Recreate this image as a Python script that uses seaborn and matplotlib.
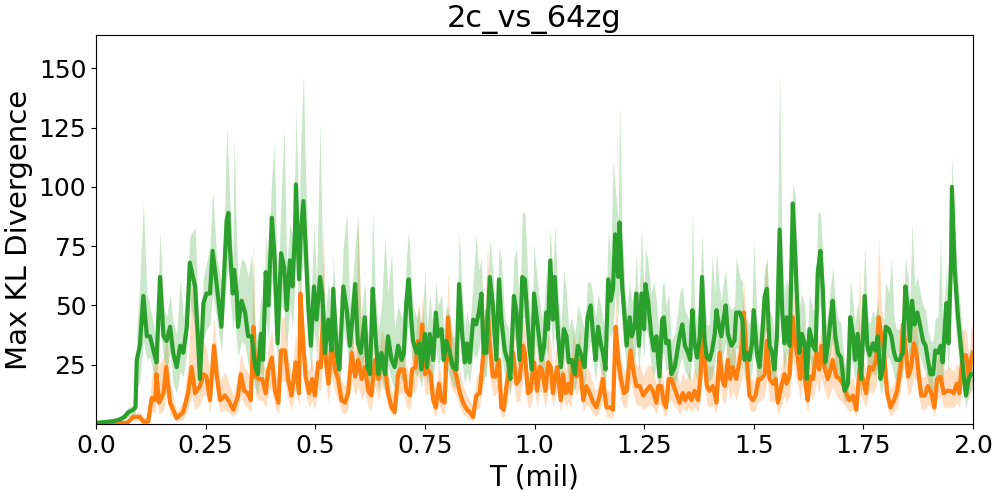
import matplotlib
matplotlib.use("Agg")
import matplotlib.pyplot as plt
import numpy as np
import seaborn as sns

# ---- data (T in millions of steps) ----
GREEN_T = [
    0.000, 0.020, 0.040, 0.055, 0.065, 0.074, 0.085, 0.090, 0.093, 0.100,
    0.108, 0.116, 0.123, 0.131, 0.138, 0.146, 0.154, 0.161, 0.169, 0.176,
    0.184, 0.192, 0.199, 0.207, 0.214, 0.226, 0.233, 0.237, 0.245, 0.252,
    0.260, 0.266, 0.275, 0.286, 0.292, 0.298, 0.302, 0.305, 0.312, 0.315,
    0.321, 0.324, 0.332, 0.340, 0.347, 0.355, 0.363, 0.369, 0.376, 0.381,
    0.387, 0.393, 0.401, 0.407, 0.414, 0.422, 0.429, 0.435, 0.442, 0.448,
    0.454, 0.456, 0.463, 0.467, 0.473, 0.478, 0.484, 0.490, 0.497, 0.503,
    0.511, 0.516, 0.522, 0.530, 0.537, 0.541, 0.549, 0.555, 0.564, 0.572,
    0.579, 0.585, 0.591, 0.597, 0.604, 0.613, 0.619, 0.625, 0.631, 0.637,
    0.644, 0.651, 0.659, 0.666, 0.674, 0.681, 0.689, 0.697, 0.702, 0.708,
    0.713, 0.719, 0.723, 0.731, 0.737, 0.742, 0.750, 0.755, 0.761, 0.769,
    0.775, 0.780, 0.788, 0.793, 0.799, 0.807, 0.814, 0.822, 0.828, 0.835,
    0.841, 0.846, 0.852, 0.860, 0.867, 0.873, 0.879, 0.884, 0.890, 0.898,
    0.905, 0.913, 0.919, 0.924, 0.932, 0.940, 0.945, 0.953, 0.959, 0.966,
    0.972, 0.978, 0.984, 0.989, 0.994, 0.999, 1.004, 1.010, 1.016, 1.022,
    1.027, 1.031, 1.036, 1.042, 1.046, 1.054, 1.060, 1.067, 1.073, 1.078,
    1.084, 1.092, 1.099, 1.107, 1.114, 1.121, 1.128, 1.134, 1.139, 1.145,
    1.151, 1.156, 1.162, 1.168, 1.174, 1.179, 1.184, 1.191, 1.194, 1.200,
    1.206, 1.210, 1.217, 1.222, 1.229, 1.232, 1.238, 1.244, 1.250, 1.253,
    1.259, 1.266, 1.272, 1.278, 1.285, 1.291, 1.295, 1.300, 1.306, 1.312,
    1.320, 1.325, 1.331, 1.337, 1.343, 1.350, 1.355, 1.360, 1.365, 1.371,
    1.377, 1.382, 1.388, 1.393, 1.399, 1.405, 1.411, 1.415, 1.421, 1.426,
    1.431, 1.436, 1.441, 1.449, 1.456, 1.460, 1.468, 1.474, 1.479, 1.484,
    1.490, 1.496, 1.500, 1.507, 1.513, 1.519, 1.525, 1.530, 1.536, 1.542,
    1.547, 1.553, 1.559, 1.565, 1.570, 1.575, 1.582, 1.589, 1.595, 1.599,
    1.604, 1.610, 1.616, 1.621, 1.627, 1.635, 1.641, 1.646, 1.652, 1.658,
    1.663, 1.669, 1.675, 1.680, 1.686, 1.692, 1.699, 1.707, 1.715, 1.720,
    1.726, 1.731, 1.737, 1.745, 1.753, 1.759, 1.764, 1.772, 1.777, 1.783,
    1.789, 1.795, 1.801, 1.808, 1.814, 1.820, 1.825, 1.833, 1.840, 1.846,
    1.852, 1.856, 1.861, 1.867, 1.873, 1.880, 1.886, 1.892, 1.897, 1.903,
    1.909, 1.914, 1.920, 1.926, 1.931, 1.939, 1.944, 1.950, 1.952, 1.958,
    1.965, 1.973, 1.979, 1.984, 1.990, 1.995, 2.000,
]
GREEN_MEAN = [
    0.5, 0.8, 1.2, 2, 3, 5, 6, 7, 27, 33,
    54, 37, 37, 31, 26, 62, 37, 35, 41, 30,
    24, 33, 30, 41, 68, 58, 34, 19, 51, 55,
    55, 73, 59, 41, 63, 86, 89, 75, 55, 65,
    55, 41, 52, 47, 37, 37, 24, 21, 38, 27,
    64, 50, 87, 71, 34, 72, 66, 48, 69, 58,
    82, 101, 61, 80, 94, 75, 50, 33, 58, 44,
    62, 55, 30, 44, 31, 57, 30, 23, 58, 48,
    33, 45, 59, 34, 30, 45, 24, 21, 57, 38,
    21, 30, 21, 37, 27, 24, 33, 27, 30, 52,
    61, 44, 35, 30, 34, 23, 38, 24, 38, 27,
    47, 37, 40, 27, 35, 30, 24, 23, 59, 38,
    26, 34, 26, 44, 42, 47, 55, 30, 30, 62,
    50, 27, 61, 45, 31, 26, 19, 54, 47, 27,
    62, 61, 44, 31, 23, 55, 47, 37, 27, 33,
    47, 40, 69, 44, 62, 37, 24, 40, 37, 26,
    27, 21, 33, 29, 24, 45, 50, 37, 27, 41,
    34, 30, 23, 61, 52, 57, 80, 62, 85, 58,
    44, 33, 45, 37, 42, 55, 33, 55, 40, 59,
    52, 38, 31, 37, 20, 44, 45, 34, 35, 21,
    24, 30, 37, 42, 33, 30, 27, 48, 34, 28,
    37, 62, 35, 28, 27, 31, 38, 48, 41, 37,
    44, 50, 38, 33, 35, 47, 47, 44, 27, 30,
    27, 34, 48, 30, 24, 37, 54, 57, 33, 30,
    23, 37, 82, 47, 34, 45, 33, 93, 69, 51,
    30, 38, 34, 19, 40, 33, 31, 64, 73, 55,
    26, 33, 44, 52, 37, 30, 28, 14, 17, 45,
    38, 27, 38, 19, 54, 33, 29, 34, 31, 37,
    19, 24, 41, 40, 37, 30, 27, 27, 30, 58,
    47, 35, 52, 42, 47, 41, 35, 33, 27, 21,
    21, 31, 30, 33, 26, 51, 34, 69, 100, 66,
    47, 31, 20, 12, 19, 21, 21,
]
GREEN_LO = [
    0.2, 0.4, 0.7, 1, 2, 3, 4, 5, 15, 18,
    35, 27, 28, 22, 18, 40, 28, 23, 30, 17,
    13, 22, 20, 30, 52, 40, 22, 12, 35, 40,
    42, 55, 45, 30, 48, 62, 65, 55, 40, 45,
    35, 28, 35, 33, 25, 22, 15, 12, 22, 18,
    45, 35, 60, 50, 24, 50, 48, 32, 50, 40,
    60, 75, 45, 60, 70, 55, 35, 22, 40, 30,
    45, 38, 20, 30, 20, 40, 20, 15, 40, 32,
    22, 30, 42, 22, 20, 30, 15, 14, 40, 25,
    14, 20, 14, 25, 18, 15, 22, 18, 20, 35,
    42, 30, 24, 20, 22, 15, 25, 16, 25, 18,
    32, 25, 28, 18, 24, 20, 16, 15, 40, 25,
    17, 22, 17, 30, 28, 32, 38, 20, 20, 42,
    35, 18, 42, 30, 20, 17, 12, 38, 32, 18,
    45, 45, 30, 20, 15, 38, 32, 25, 18, 22,
    32, 28, 48, 30, 44, 25, 16, 28, 25, 17,
    18, 14, 22, 19, 16, 30, 35, 25, 18, 28,
    22, 20, 15, 42, 36, 40, 55, 45, 60, 40,
    30, 22, 30, 25, 28, 38, 22, 38, 28, 42,
    36, 25, 20, 25, 13, 30, 30, 22, 24, 14,
    16, 20, 25, 28, 22, 20, 18, 32, 22, 18,
    25, 42, 24, 18, 18, 20, 25, 32, 28, 25,
    30, 35, 25, 22, 24, 32, 32, 30, 18, 20,
    18, 22, 32, 20, 16, 25, 38, 40, 22, 20,
    15, 25, 55, 32, 22, 30, 22, 65, 48, 35,
    20, 25, 22, 12, 28, 22, 20, 45, 50, 38,
    17, 22, 30, 36, 25, 20, 18, 9, 11, 30,
    25, 18, 25, 12, 38, 22, 19, 22, 20, 25,
    12, 16, 28, 28, 25, 20, 18, 18, 20, 40,
    32, 24, 36, 28, 32, 28, 24, 22, 18, 14,
    14, 20, 20, 22, 17, 35, 22, 48, 70, 45,
    32, 20, 13, 7, 12, 14, 14,
]
GREEN_HI = [
    1, 1.3, 2, 3, 5, 7, 8, 10, 40, 60,
    93, 55, 50, 42, 35, 81, 50, 45, 55, 43,
    38, 61, 45, 55, 79, 83, 50, 35, 62, 68,
    75, 99, 70, 60, 80, 125, 110, 95, 70, 121,
    75, 60, 70, 68, 62, 72, 40, 35, 55, 40,
    80, 68, 105, 118, 50, 95, 125, 65, 85, 80,
    110, 134, 80, 120, 147, 105, 70, 50, 85, 60,
    127, 75, 45, 60, 45, 70, 42, 35, 75, 89,
    50, 60, 75, 88, 45, 60, 40, 35, 90, 55,
    40, 50, 79, 55, 72, 40, 50, 45, 48, 70,
    82, 60, 50, 45, 50, 38, 65, 40, 55, 40,
    60, 50, 55, 40, 50, 45, 38, 35, 82, 55,
    40, 48, 40, 60, 80, 65, 70, 45, 45, 78,
    65, 40, 75, 70, 45, 40, 30, 70, 74, 45,
    89, 89, 65, 50, 40, 76, 65, 55, 45, 50,
    65, 55, 83, 60, 84, 55, 40, 65, 55, 40,
    45, 38, 50, 45, 40, 60, 60, 52, 45, 55,
    50, 45, 38, 82, 70, 111, 100, 85, 136, 80,
    60, 48, 60, 52, 58, 72, 50, 83, 55, 75,
    68, 55, 60, 52, 35, 58, 60, 50, 55, 35,
    38, 45, 55, 58, 48, 45, 42, 89, 50, 42,
    55, 80, 52, 42, 42, 71, 55, 73, 58, 52,
    60, 65, 52, 48, 50, 71, 62, 60, 42, 45,
    42, 50, 77, 45, 38, 52, 66, 70, 48, 45,
    38, 60, 148, 70, 55, 62, 55, 102, 96, 70,
    50, 55, 50, 32, 55, 48, 48, 89, 89, 70,
    40, 48, 58, 66, 52, 45, 42, 25, 30, 61,
    52, 42, 52, 32, 76, 48, 42, 48, 45, 52,
    32, 38, 60, 55, 70, 45, 40, 40, 45, 70,
    62, 50, 85, 58, 62, 55, 50, 48, 40, 35,
    35, 45, 45, 78, 40, 65, 50, 90, 113, 85,
    62, 45, 32, 22, 30, 32, 30,
]

ORANGE_T = [
    0.000, 0.040, 0.071, 0.085, 0.100, 0.108, 0.119, 0.127, 0.135, 0.138,
    0.144, 0.154, 0.160, 0.169, 0.184, 0.199, 0.210, 0.218, 0.226, 0.237,
    0.245, 0.252, 0.260, 0.269, 0.275, 0.283, 0.294, 0.302, 0.313, 0.324,
    0.330, 0.338, 0.346, 0.353, 0.359, 0.364, 0.371, 0.379, 0.387, 0.393,
    0.401, 0.408, 0.416, 0.422, 0.431, 0.438, 0.446, 0.455, 0.463, 0.466,
    0.473, 0.478, 0.486, 0.493, 0.499, 0.507, 0.513, 0.518, 0.524, 0.530,
    0.537, 0.545, 0.552, 0.560, 0.568, 0.575, 0.583, 0.591, 0.598, 0.606,
    0.613, 0.621, 0.628, 0.636, 0.644, 0.651, 0.659, 0.666, 0.674, 0.681,
    0.689, 0.694, 0.702, 0.708, 0.716, 0.721, 0.729, 0.734, 0.740, 0.744,
    0.750, 0.757, 0.763, 0.769, 0.775, 0.782, 0.788, 0.795, 0.803, 0.808,
    0.814, 0.822, 0.830, 0.837, 0.846, 0.852, 0.860, 0.867, 0.875, 0.882,
    0.887, 0.893, 0.898, 0.905, 0.911, 0.919, 0.924, 0.930, 0.936, 0.943,
    0.951, 0.959, 0.966, 0.974, 0.978, 0.985, 0.991, 0.999, 1.006, 1.012,
    1.017, 1.025, 1.031, 1.037, 1.042, 1.048, 1.052, 1.060, 1.065, 1.071,
    1.077, 1.083, 1.088, 1.096, 1.103, 1.111, 1.118, 1.126, 1.134, 1.141,
    1.149, 1.156, 1.164, 1.172, 1.179, 1.185, 1.191, 1.197, 1.204, 1.210,
    1.219, 1.225, 1.232, 1.240, 1.248, 1.255, 1.263, 1.270, 1.278, 1.282,
    1.289, 1.295, 1.300, 1.306, 1.312, 1.318, 1.323, 1.331, 1.338, 1.344,
    1.352, 1.358, 1.365, 1.373, 1.378, 1.383, 1.388, 1.393, 1.399, 1.407,
    1.415, 1.422, 1.428, 1.434, 1.441, 1.446, 1.452, 1.460, 1.468, 1.474,
    1.477, 1.483, 1.490, 1.498, 1.504, 1.511, 1.517, 1.525, 1.530, 1.536,
    1.544, 1.550, 1.555, 1.563, 1.570, 1.575, 1.582, 1.589, 1.595, 1.601,
    1.606, 1.612, 1.618, 1.623, 1.629, 1.635, 1.643, 1.649, 1.654, 1.661,
    1.669, 1.675, 1.680, 1.688, 1.696, 1.703, 1.711, 1.718, 1.726, 1.734,
    1.741, 1.749, 1.756, 1.764, 1.772, 1.779, 1.785, 1.791, 1.797, 1.804,
    1.812, 1.820, 1.827, 1.835, 1.840, 1.846, 1.852, 1.859, 1.865, 1.871,
    1.876, 1.882, 1.890, 1.897, 1.905, 1.912, 1.918, 1.926, 1.933, 1.941,
    1.948, 1.956, 1.963, 1.969, 1.976, 1.984, 1.991, 1.995, 2.000,
]
ORANGE_MEAN = [
    0.3, 0.4, 0.5, 3, 3, 1, 1, 11, 10, 21,
    9, 13, 24, 9, 2.5, 5, 13, 24, 13, 16,
    21, 20, 10, 33, 21, 10, 12, 10, 6, 12,
    21, 14, 13, 10, 41, 20, 19, 19, 13, 23,
    28, 14, 9, 31, 31, 19, 12, 26, 13, 55,
    33, 20, 13, 19, 12, 26, 24, 48, 27, 17,
    34, 23, 19, 10, 9, 13, 30, 20, 27, 19,
    24, 14, 12, 27, 19, 27, 24, 13, 7, 5,
    21, 23, 23, 14, 12, 23, 24, 35, 30, 42,
    21, 23, 21, 10, 7, 17, 10, 9, 45, 27,
    25, 20, 13, 9, 6, 5, 3, 12, 13, 27,
    35, 48, 34, 20, 20, 27, 7, 6, 16, 24,
    30, 17, 19, 33, 30, 13, 14, 26, 14, 24,
    23, 14, 26, 24, 13, 20, 24, 10, 21, 13,
    17, 13, 27, 20, 27, 10, 16, 13, 9, 7,
    12, 19, 7, 7, 6, 41, 27, 19, 13, 14,
    31, 23, 16, 16, 12, 14, 16, 14, 9, 16,
    16, 9, 7, 19, 19, 16, 13, 9, 13, 10,
    13, 10, 14, 10, 19, 38, 27, 16, 14, 16,
    9, 30, 19, 16, 27, 19, 24, 19, 27, 34,
    47, 31, 12, 10, 12, 19, 19, 21, 35, 19,
    17, 19, 9, 16, 21, 17, 21, 45, 34, 27,
    19, 31, 17, 10, 20, 19, 30, 23, 33, 24,
    19, 23, 27, 20, 19, 17, 13, 10, 12, 6,
    23, 19, 13, 24, 23, 27, 45, 37, 30, 13,
    7, 10, 14, 24, 42, 33, 20, 24, 34, 30,
    21, 12, 12, 16, 13, 7, 19, 20, 13, 14,
    14, 13, 17, 13, 29, 29, 19, 27, 30,
]
ORANGE_LO = [
    0.1, 0.2, 0.2, 1.5, 1.5, 0.5, 0.5, 5, 5, 10,
    4, 6, 12, 4, 1, 2, 6, 12, 6, 8,
    12, 12, 5, 20, 12, 5, 6, 5, 3, 6,
    12, 8, 7, 5, 25, 12, 10, 10, 7, 13,
    16, 7, 4, 18, 18, 10, 6, 15, 7, 35,
    20, 12, 7, 10, 6, 15, 14, 30, 16, 9,
    20, 13, 10, 5, 4, 7, 18, 12, 16, 10,
    14, 7, 6, 16, 10, 16, 14, 7, 4, 3,
    12, 13, 13, 7, 6, 13, 14, 20, 18, 25,
    12, 13, 12, 5, 3, 9, 5, 4, 28, 16,
    14, 12, 7, 4, 3, 2, 1, 6, 7, 16,
    20, 30, 20, 12, 12, 16, 3, 3, 8, 14,
    18, 9, 10, 20, 18, 7, 7, 15, 7, 14,
    13, 7, 15, 14, 7, 12, 14, 5, 12, 7,
    9, 7, 16, 12, 16, 5, 8, 7, 4, 3,
    6, 10, 3, 3, 2, 25, 16, 10, 7, 7,
    18, 13, 8, 8, 6, 7, 8, 7, 4, 8,
    8, 4, 3, 10, 10, 8, 7, 4, 7, 5,
    7, 5, 7, 5, 10, 22, 16, 8, 7, 8,
    4, 18, 10, 8, 16, 10, 14, 10, 16, 20,
    28, 18, 6, 5, 6, 10, 10, 12, 20, 10,
    9, 10, 4, 8, 12, 9, 12, 28, 20, 16,
    10, 18, 9, 5, 12, 10, 18, 13, 20, 14,
    10, 13, 16, 12, 10, 9, 7, 5, 6, 3,
    13, 10, 7, 14, 13, 16, 28, 22, 18, 7,
    3, 5, 7, 14, 25, 20, 12, 14, 20, 18,
    12, 6, 6, 8, 7, 3, 10, 12, 7, 7,
    7, 7, 9, 7, 17, 17, 10, 16, 18,
]
ORANGE_HI = [
    0.6, 0.8, 1, 5, 5, 3, 3, 20, 30, 40,
    25, 28, 40, 18, 5, 10, 25, 60, 40, 28,
    35, 32, 20, 45, 32, 18, 22, 18, 12, 20,
    30, 24, 22, 18, 78, 30, 28, 28, 22, 33,
    40, 24, 16, 45, 45, 28, 20, 38, 22, 70,
    45, 30, 22, 28, 20, 38, 35, 85, 40, 26,
    48, 33, 28, 18, 16, 22, 42, 30, 87, 28,
    35, 24, 20, 40, 28, 40, 35, 22, 14, 10,
    32, 33, 33, 24, 20, 33, 35, 50, 42, 55,
    32, 33, 32, 18, 14, 26, 18, 16, 64, 40,
    36, 30, 22, 16, 12, 10, 7, 20, 22, 40,
    50, 75, 48, 30, 30, 40, 14, 12, 25, 35,
    42, 26, 28, 45, 42, 22, 24, 38, 24, 35,
    33, 24, 38, 35, 22, 30, 35, 18, 32, 22,
    26, 22, 40, 30, 40, 18, 25, 22, 16, 14,
    20, 28, 14, 14, 12, 55, 40, 28, 22, 24,
    45, 33, 25, 25, 20, 24, 25, 24, 16, 25,
    25, 16, 14, 28, 28, 25, 22, 16, 22, 18,
    22, 18, 24, 18, 28, 50, 40, 25, 24, 25,
    16, 42, 28, 25, 40, 28, 35, 28, 40, 48,
    60, 45, 20, 18, 20, 28, 28, 60, 70, 28,
    26, 28, 16, 25, 32, 26, 32, 60, 48, 40,
    28, 45, 26, 18, 30, 28, 42, 33, 45, 35,
    28, 33, 40, 30, 28, 26, 22, 18, 20, 12,
    65, 28, 22, 35, 33, 40, 78, 50, 42, 22,
    14, 18, 24, 35, 63, 45, 30, 35, 48, 42,
    32, 20, 20, 25, 22, 14, 28, 30, 22, 24,
    24, 22, 26, 22, 40, 40, 28, 40, 42,
]

TITLE = "2c_vs_64zg"
X_TICKS = [0.0, 0.25, 0.5, 0.75, 1.0, 1.25, 1.5, 1.75, 2.0]
X_TICK_LABELS = ["0.0", "0.25", "0.5", "0.75", "1.0", "1.25", "1.5", "1.75", "2.0"]
Y_TICKS = [25, 50, 75, 100, 125, 150]

series = [
    (ORANGE_T, ORANGE_MEAN, ORANGE_LO, ORANGE_HI, "tab:orange"),
    (GREEN_T, GREEN_MEAN, GREEN_LO, GREEN_HI, "tab:green"),
]

fig = plt.figure(figsize=(10, 4.96), dpi=100)
ax = fig.add_axes([0.096, 0.1452, 0.877, 0.784])

for t, mean, lo, hi, color in series:
    ax.fill_between(t, lo, hi, color=color, alpha=0.25, linewidth=0)
    sns.lineplot(x=t, y=mean, color=color, linewidth=3, ax=ax)

ax.set_xlim(0, 2.0)
ax.set_ylim(0, 164)
ax.set_xticks(X_TICKS)
ax.set_xticklabels(X_TICK_LABELS)
ax.set_yticks(Y_TICKS)
ax.tick_params(labelsize=18)
ax.set_xlabel("T (mil)", fontsize=20)
ax.set_ylabel("Max KL Divergence", fontsize=21)
ax.set_title(TITLE, fontsize=22)

fig.savefig("out.png", dpi=100)
plt.close(fig)
